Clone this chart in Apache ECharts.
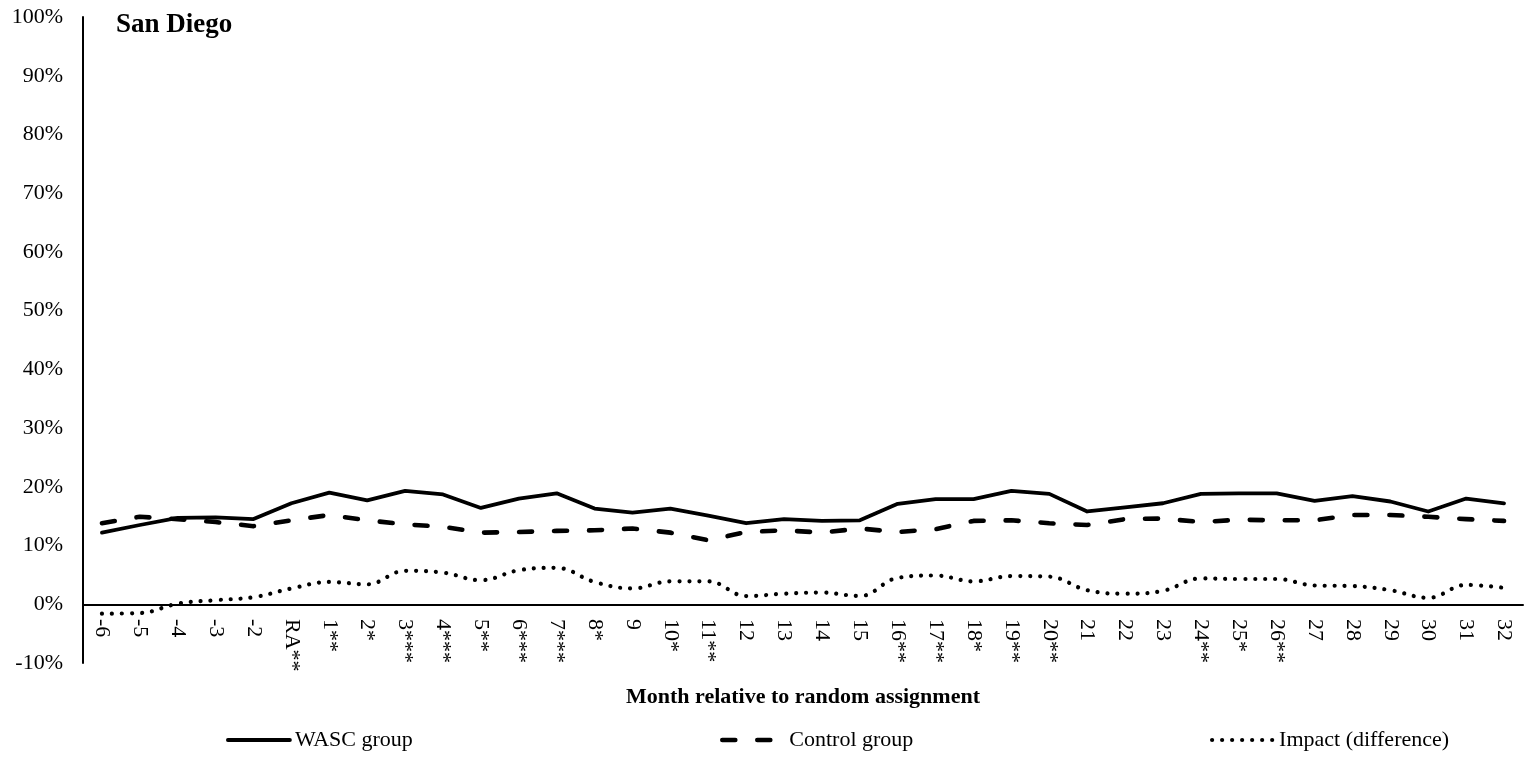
<!DOCTYPE html>
<html>
<head>
<meta charset="utf-8">
<title>San Diego</title>
<script src="https://cdn.jsdelivr.net/npm/echarts@6/dist/echarts.min.js"></script>
<style>
  html, body { margin: 0; padding: 0; background: #fff; }
  #chart { width: 1524px; height: 761px; }
</style>
</head>
<body>
<div id="chart"></div>
<script>
// Months relative to random assignment (stars mark significance of the impact)
const months = ['-6', '-5', '-4', '-3', '-2', 'RA**', '1**', '2*', '3***', '4***', '5**', '6***', '7***',
  '8*', '9', '10*', '11**', '12', '13', '14', '15', '16**', '17**', '18*', '19**', '20**',
  '21', '22', '23', '24**', '25*', '26**', '27', '28', '29', '30', '31', '32'];

// Share of sample (percent)
const wascGroup = [12.2, 13.5, 14.7, 14.8, 14.5, 17.2, 19.0, 17.7, 19.3, 18.7, 16.4, 18.0, 18.9,
  16.3, 15.6, 16.3, 15.1, 13.8, 14.5, 14.2, 14.3, 17.1, 17.9, 17.9, 19.3, 18.8,
  15.8, 16.5, 17.2, 18.8, 18.9, 18.9, 17.6, 18.4, 17.5, 15.8, 18.0, 17.2];

const controlGroup = [13.8, 14.9, 14.5, 14.0, 13.3, 14.3, 15.2, 14.3, 13.6, 13.2, 12.2, 12.3, 12.5,
  12.6, 12.9, 12.2, 10.9, 12.3, 12.6, 12.2, 12.9, 12.3, 12.8, 14.2, 14.3, 13.8,
  13.5, 14.5, 14.6, 14.0, 14.4, 14.3, 14.3, 15.2, 15.2, 14.9, 14.5, 14.2];

const impact = [-1.6, -1.5, 0.1, 0.7, 1.2, 2.7, 3.8, 3.4, 5.7, 5.4, 4.1, 5.8, 6.2,
  3.8, 2.7, 3.9, 3.9, 1.4, 1.8, 2.0, 1.4, 4.5, 4.9, 3.9, 4.8, 4.7,
  2.4, 1.8, 2.3, 4.4, 4.3, 4.3, 3.2, 3.1, 2.4, 1.1, 3.3, 2.8];

const seriesNames = ['WASC group', 'Control group', 'Impact (difference)'];

const FONT = '"Liberation Serif", "Times New Roman", serif';

const chart = echarts.init(document.getElementById('chart'), null, { renderer: 'canvas' });

const solidStyle = { color: '#000', width: 3.8, type: 'solid', cap: 'round', join: 'round' };
const dashStyle = { color: '#000', width: 4.6, type: [13, 22], cap: 'round', join: 'round' };
const dotStyle = { color: '#000', width: 4.2, type: [0.01, 10], cap: 'round', join: 'round' };

function legendAt(left, name, lineStyle) {
  return {
    left: left,
    top: 729,
    orient: 'horizontal',
    itemWidth: 62,
    itemHeight: 24,
    itemGap: 0,
    selectedMode: false,
    padding: 0,
    textStyle: { fontFamily: FONT, fontSize: 22, color: '#000' },
    itemStyle: { opacity: 0 },
    lineStyle: lineStyle,
    data: [{ name: name }]
  };
}

const option = {
  backgroundColor: '#fff',
  animation: false,
  title: {
    text: 'San Diego',
    left: 116,
    top: 12,
    padding: 0,
    textStyle: { fontFamily: FONT, fontSize: 27, fontWeight: 'bold', color: '#000' }
  },
  legend: [
    legendAt(226, seriesNames[0], solidStyle),
    legendAt(720, seriesNames[1], dashStyle),
    legendAt(1210, seriesNames[2], dotStyle)
  ],
  grid: { left: 83, right: 1, top: 17, height: 646, containLabel: false, outerBoundsMode: 'none' },
  xAxis: {
    type: 'category',
    data: months,
    boundaryGap: true,
    name: 'Month relative to random assignment',
    nameLocation: 'middle',
    nameGap: 23,
    nameMoveOverlap: false,
    nameTextStyle: { fontFamily: FONT, fontSize: 22, fontWeight: 'bold', color: '#000' },
    axisLine: { onZero: true, lineStyle: { color: '#000', width: 2 } },
    axisTick: { show: false },
    axisLabel: {
      interval: 0,
      rotate: -90,
      margin: -44,
      fontFamily: FONT,
      fontSize: 22,
      color: '#000'
    },
    splitLine: { show: false }
  },
  yAxis: {
    type: 'value',
    min: -10,
    max: 100,
    interval: 10,
    axisLine: { show: true, lineStyle: { color: '#000', width: 2 } },
    axisTick: { show: false },
    axisLabel: {
      margin: 20,
      fontFamily: FONT,
      fontSize: 22,
      color: '#000',
      padding: [7, 0, 0, 0],
      formatter: '{value}%'
    },
    splitLine: { show: false }
  },
  series: [
    {
      name: seriesNames[0],
      type: 'line',
      data: wascGroup,
      symbol: 'none',
      lineStyle: solidStyle,
      itemStyle: { color: '#000' },
      z: 3
    },
    {
      name: seriesNames[1],
      type: 'line',
      data: controlGroup,
      symbol: 'none',
      lineStyle: dashStyle,
      itemStyle: { color: '#000' },
      z: 2
    },
    {
      name: seriesNames[2],
      type: 'line',
      data: impact,
      symbol: 'none',
      smooth: 0.4,
      lineStyle: dotStyle,
      itemStyle: { color: '#000' },
      z: 1
    }
  ]
};

chart.setOption(option);
</script>
</body>
</html>
